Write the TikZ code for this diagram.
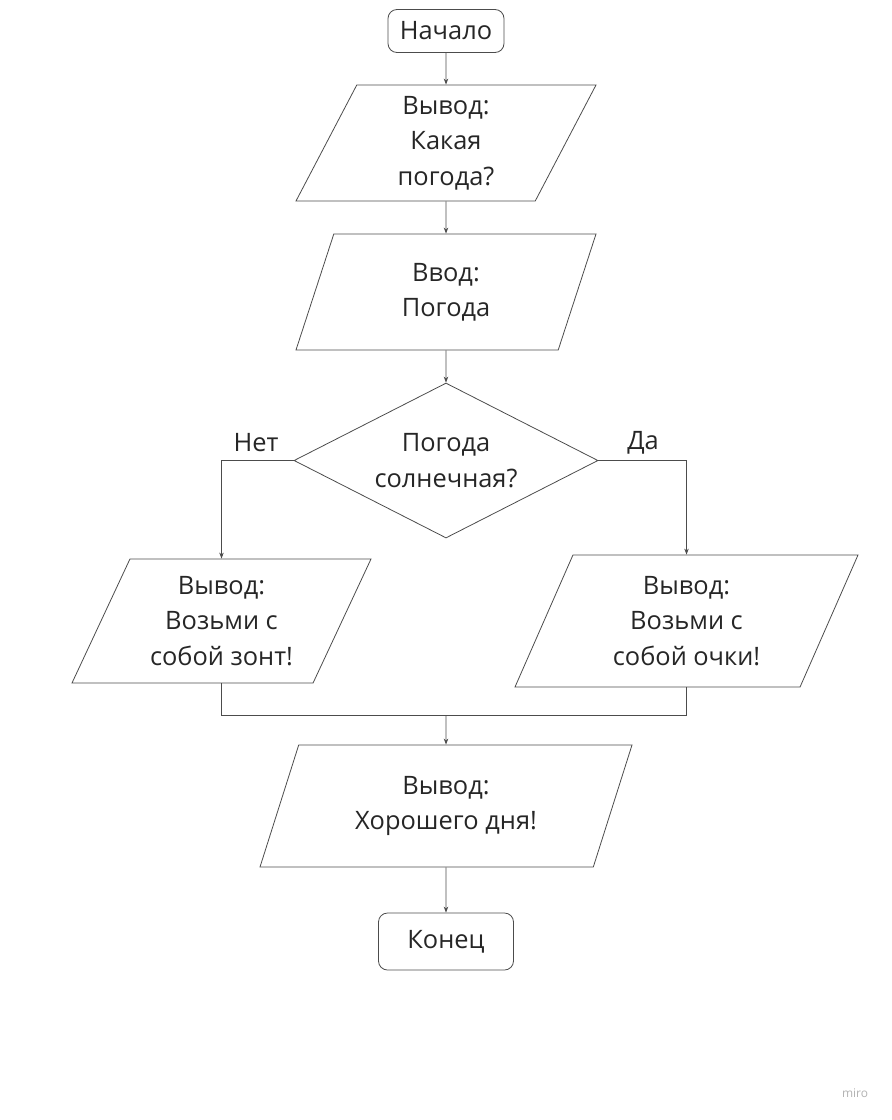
\documentclass[tikz,border=0pt]{standalone}
\usepackage{fontspec}
\setmainfont{Open Sans}
\usetikzlibrary{shapes.geometric,arrows.meta}

\tikzset{
  term/.style={draw=black!70, line width=0.8bp, rounded corners=9bp, inner sep=0pt},
  io/.style={draw=black!70, line width=0.8bp, trapezium, trapezium left angle=57,
    trapezium right angle=123, trapezium stretches body, minimum width=300bp,
    minimum height=116bp, inner sep=0pt, align=center},
  test/.style={draw=black!70, line width=0.8bp, diamond, aspect=1.96,
    minimum width=304bp, minimum height=155bp, inner sep=0pt, align=center},
  flow/.style={draw=black!70, line width=0.8bp, -{Stealth[length=6bp,width=4.5bp]}},
  conn/.style={draw=black!70, line width=0.8bp},
}

\begin{document}
\begin{tikzpicture}[x=1bp, y=-1bp, text=black!85,
    font=\fontsize{25.5}{35.5}\selectfont]
  \useasboundingbox (0,0) rectangle (892,1120);

  \node[term, minimum width=116bp, minimum height=43bp] (start) at (446,31) {Начало};
  \node[io] (ask) at (446,143) {Вывод:\\Какая\\погода?};
  \node[io] (read) at (446,292) {Ввод:\\Погода};
  \node[test] (sun) at (446,460.5) {Погода\\солнечная?};
  \node[io, minimum width=299bp, minimum height=124bp] (umbr) at (221.5,621) {Вывод:\\Возьми с\\собой зонт!};
  \node[io, minimum width=343bp, minimum height=132bp] (glass) at (686.5,621) {Вывод:\\Возьми с\\собой очки!};
  \node[io, minimum width=372bp, minimum height=122bp] (bye) at (446,806) {Вывод:\\Хорошего дня!};
  \node[term, minimum width=135bp, minimum height=57bp] (stop) at (446,941.5) {Конец};
  % branch labels
  \node (no) at (256,443) {Нет};
  \node (yes) at (643,443) {Да};
  \coordinate (join) at (446,715);

  \draw[flow] (start) -- (ask);
  \draw[flow] (ask) -- (read);
  \draw[flow] (read) -- (sun);
  \draw[flow] (sun.west) -| (umbr);
  \draw[flow] (sun.east) -| (glass);
  \draw[conn] (umbr) |- (join) -| (glass);
  \draw[flow] (join) -- (bye);
  \draw[flow] (bye) -- (stop);

  \node[text=black!30, font=\fontsize{12}{14}\selectfont] (miro) at (855,1093) {miro};
\end{tikzpicture}
\end{document}
